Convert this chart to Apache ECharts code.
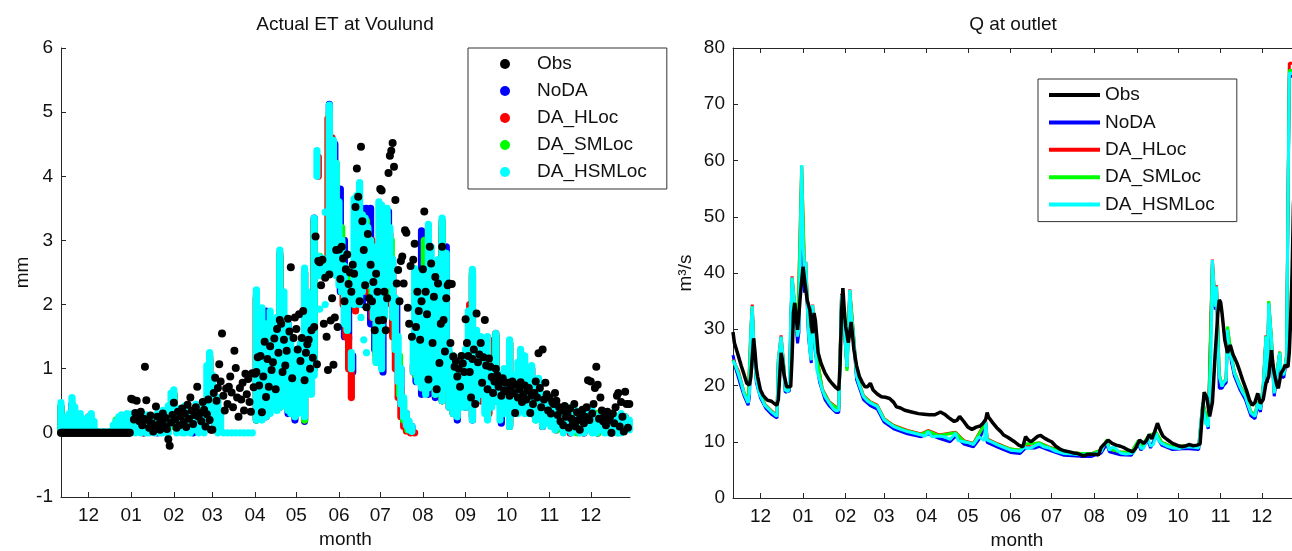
<!DOCTYPE html>
<html>
<head>
  <meta charset="utf-8">
  <script src="https://cdn.jsdelivr.net/npm/echarts@6.0.0/dist/echarts.min.js"></script>
  <style>
    html, body { margin: 0; padding: 0; background: #fff; }
    #chart { width: 1292px; height: 551px; }
  </style>
</head>
<body>
  <div id="chart"></div>

  <script type="text/javascript">
    // x values are days counted from 11 Nov; ticks sit on the first day of each month
    var monthDays = [20, 51, 82, 110, 141, 171, 202, 232, 263, 294, 324, 355, 385];
    var monthLabels = ['12', '01', '02', '03', '04', '05', '06', '07', '08', '09', '10', '11', '12'];
    var seriesNames = ['Obs', 'NoDA', 'DA_HLoc', 'DA_SMLoc', 'DA_HSMLoc'];
    var seriesColors = ['#000000', '#0000ff', '#ff0000', '#00ff00', '#00ffff'];

    // observed daily ET (mm), one value per day from day 0
    var etObsNovDec = [0,0,0,0,0,0,0,0,0,0, 0,0,0,0,0,0,0,0,0,0, 0,0,0,0,0,0,0,0,0,0, 0,0,0,0,0,0,0,0,0,0, 0,0,0,0,0,0,0,0,0,0, 0];
    var etObsJan = [0.53,0.52,0.21,0.31,0.50,0.26,0.18,0.33,0.12,0.22,1.03,0.51,0.20,0.08,0.27,0.15,0.02,0.10,0.41,0.25,0.13,0.05,0.19,0.30,0.11,0.23,0.06,-0.10,-0.20,0.16,0.28];
    var etObsFeb = [0.47,0.21,0.08,0.33,0.12,0.26,0.38,0.17,0.30,0.09,0.44,0.22,0.55,0.35,0.14,0.28,0.40,0.72,0.25,0.31,0.18,0.48,0.36,0.10,0.29,0.52,0.20,0.05];
    var etObsMar = [0.05,0.62,0.86,0.50,0.70,1.07,0.80,1.55,0.58,0.35,0.69,0.45,0.72,0.88,0.63,0.40,1.28,1.01,0.55,0.25,0.70,0.52,0.78,0.35,0.92,0.60,0.84,0.48,0.33,0.93,0.71];
    var etObsApr = [0.92,0.95,1.18,0.74,1.20,0.32,0.88,1.42,0.56,1.15,0.72,1.35,0.98,1.10,1.47,0.68,1.62,1.25,1.76,1.70,0.95,1.45,1.05,1.28,1.78,1.58,2.58,0.85,1.48,1.80];
    var etObsMay = [1.62,1.30,1.85,1.12,1.48,1.90,0.82,1.25,1.38,1.45,1.00,1.60,1.17,1.65,3.06,1.07,2.68,2.66,2.30,2.70,1.70,2.42,1.50,0.98,2.47,1.75,2.10,1.06,1.80,2.85,1.65];
    var etObsJun = [2.86,2.40,2.90,2.72,2.05,2.55,2.78,2.32,2.50,2.20,2.62,2.48,3.52,4.12,3.68,2.05,4.46,3.30,2.85,2.30,1.96,3.10,2.10,2.62,2.05,2.35,1.60,2.48,2.20,1.75];
    var etObsJul = [3.80,3.78,1.76,2.20,1.60,2.10,4.05,4.32,4.40,4.52,4.15,3.63,2.33,2.54,2.05,2.68,2.75,2.33,3.16,3.12,1.95,1.70,2.60,1.50,2.70,2.95,1.65,2.20,1.90,1.45,2.05];
    var etObsAug = [2.55,3.45,2.20,1.85,0.83,2.90,2.64,1.40,2.12,2.43,0.68,2.33,1.09,1.70,2.90,1.76,1.27,2.10,2.30,2.33,1.40,2.32,1.19,1.03,1.12,0.88,1.00,0.72,1.20,1.08,0.95];
    var etObsSep = [1.77,1.40,1.20,0.95,0.55,1.15,1.30,0.45,1.86,1.10,1.22,1.40,0.78,1.18,1.76,1.05,0.68,1.16,1.03,0.87,0.62,0.80,1.00,0.90,0.72,0.80,0.58,0.85,0.66,0.78];
    var etObsOct = [0.65,0.78,0.58,0.72,0.80,0.62,0.31,0.75,0.55,0.68,0.79,0.48,0.60,0.74,0.52,0.66,0.70,0.31,0.58,0.45,0.62,0.80,0.55,1.24,0.70,0.40,1.30,0.52,0.78,0.60,0.35];
    var etObsNov = [0.55,0.30,0.48,0.45,0.62,0.50,0.28,0.40,0.18,0.35,0.12,0.42,0.25,0.30,0.08,0.38,0.22,0.15,0.45,0.10,0.32,0.20,0.05,0.28,0.36,0.15,0.25,0.40,0.82,0.20];
    var etObsDec = [0.80,0.30,0.45,0.70,1.03,0.75,0.22,0.55,0.35,0.18,0.28,0.12,0.33,0.20,0.25,0.00,0.30,0.15,0.40,0.58,0.62,0.10,0.48,0.25,0.02,0.64,0.45,0.08,0.45];

    // simulated ET: [day, lowest, highest] of the sub-daily values
    var etHSMLoc = [[0,0,0.47],[2,0.05,0.15],[4,0,0.25],[6,0,0.3],[8,0.05,0.55],[10,0,0.4],[12,0.05,0.28],[14,0,0.3],[16,0,0.22],[18,0.05,0.2],[20,0,0.25],[22,0,0.3],[24,0,0.18],[27,0,0.02],[31,0,0.02],[35,0,0.02],[38,0,0.12],[40,0,0.18],[42,0,0.25],[44,0.02,0.28],[46,0,0.2],[48,0,0.3],[50,0,0.28],[52,0.05,0.3],
      [54,0,0.25],[56,0.02,0.3],[58,0,0.18],[60,0.05,0.22],[62,0,0.28],[64,0,0.15],[66,0.02,0.25],[68,0,0.2],[70,0.05,0.3],[72,0,0.22],[74,0,0.35],[76,0.05,0.28],[78,0,0.42],[80,0.3,0.62],[82,0.15,0.67],[84,0,0.3],[86,0.05,0.38],[88,0,0.25],[90,0,0.42],[92,0.05,0.35],[94,0,0.3],[96,0.05,0.2],[98,0.05,0.45],[100,0,0.3],[102,0.02,0.4],[104,0,0.25],[106,0.1,1.05],[108,0.2,1.25],[110,0.3,0.9],[112,0.1,0.5],[114,0,0.55],[116,0.05,0.3],
      [118,0,0],[121,0,0],[124,0,0],[127,0,0],[130,0,0],[133,0,0],[136,0,0],[139,0,0],
      [142,0.2,2.23],[144,0.25,1.6],[146,0.2,1.95],[149,0.25,1.7],[152,0.3,1.9],[155,0.4,1.5],[157,0.35,1.8],[159,0.4,2.85],[161,0.5,2.0],[162,0.6,2.2],[164,0.4,1.6],[165,0.35,1.7],[167,0.3,1.4],[170,0.25,1.2],
      [172,0.3,1.1],[174,0.4,1.4],[177,0.25,2.57],[179,0.6,2.2],[180,0.9,2.0],[182,0.6,1.5],[184,0.9,3.35],[186,4.0,4.4],[187,2.45,2.75],[188,1.93,1.93],[190,2.45,2.72],[192,3.44,3.44],[192,2.0,2.0],[193,2.5,2.7],[195,2.6,5.11],
      [198,2.55,4.56],[200,2.45,4.2],[202,2.3,3.6],[204,2.2,3.0],[206,1.7,2.6],[208,1.6,2.3],[211,1.0,1.25],[213,2.0,3.65],[215,2.2,3.7],[217,2.0,3.9],[218,1.8,1.8],[219,2.2,3.4],[220,1.45,1.45],[221,2.9,3.35],[222,1.25,1.25],[223,2.3,3.2],[225,2.5,3.0],[227,1.8,2.6],[229,1.1,2.9],[231,1.5,3.6],[233,1.0,3.55],[235,1.8,3.5],[237,2.6,3.5],
      [239,2.3,3.2],[241,1.8,2.7],[243,1.3,2.1],[245,0.8,1.5],[247,0.45,1.0],[249,0.25,0.55],[251,0.12,0.3],[253,0.05,0.18],[255,0.02,0.1],[256,0.95,1.5],[257,1.0,2.56],[259,0.8,2.2],[262,0.7,2.5],
      [264,0.8,2.0],[265,0.6,2.2],[267,0.7,3.25],[269,0.8,2.9],[272,0.6,2.4],[274,0.8,2.7],[277,0.5,3.35],[280,0.7,2.8],[282,0.4,1.3],[285,0.3,1.2],[288,0.25,1.1],[291,0.4,1.2],
      [294,0.4,1.3],[296,0.45,1.9],[297,0.5,1.9],[299,0.2,2.55],[302,0.5,1.6],[305,0.6,1.5],[308,0.3,1.1],[310,0.2,1.5],[313,0.4,1.0],[316,0.5,1.55],[319,0.2,0.9],[322,0.3,1.0],
      [326,0.1,1.45],[329,0.3,0.9],[332,0.3,1.1],[334,0.4,1.3],[337,0.3,1.2],[340,0.3,1.0],[342,0.3,1.05],[345,0.2,0.7],[347,0.3,0.85],[350,0.1,0.6],[353,0.15,0.55],
      [356,0.1,0.45],[359,0.05,0.5],[362,0.1,0.4],[365,0,0.35],[368,0.05,0.4],[371,0,0.3],[374,0.05,0.35],[377,0,0.3],[380,0,0.25],[383,0.05,0.3],[386,0,0.35],[389,0,0.25],[392,0.05,0.3],[395,0,0.25],[398,0,0.2],[401,0.05,0.3],[404,0,0.25],[407,0,0.3],[410,0.05,0.25],[413,0.05,0.2]];
    var etNoDA = [[0,0,0.4],[8,0,0.45],[16,0,0.2],[44,0,0.25],[60,0,0.2],[70,0,0.28],[82,0.1,0.6],[96,0,0.2],[108,0.2,1.15],[112,0.1,0.45],
      [142,0.2,2.1],[149,0.25,1.9],[159,0.4,2.75],[165,0.3,1.7],[170,0.2,1.2],[177,0.18,2.5],[184,1.0,3.35],[195,2.6,5.12],[199,2.5,4.5],[203,2.2,3.8],[206,1.5,3.0],[209,1.45,2.1],[212,0.95,1.2],
      [215,2.6,3.3],[219,2.0,3.5],[222,2.8,3.5],[225,1.7,3.5],[228,1.3,2.4],[234,0.95,3.5],[238,2.5,3.45],[241,1.7,2.7],[244,1.2,2.0],[247,0.45,1.0],[251,0.1,0.3],[255,0.02,0.1],
      [258,0.8,2.4],[262,0.6,3.15],[267,0.6,3.1],[272,0.55,2.4],[277,0.5,3.2],[280,0.6,2.9],[285,0.3,1.2],[288,0.2,1.1],[294,0.4,1.2],[299,0.2,2.45],[305,0.5,1.45],[310,0.25,1.45],[316,0.5,1.5],[320,0.15,0.9],
      [326,0.1,1.4],[334,0.35,1.25],[342,0.3,1.0],[350,0.1,0.6],[360,0.05,0.45],[370,0,0.35],[380,0,0.25],[390,0,0.3],[400,0,0.25],[410,0.05,0.25]];
    var etHLoc = [[0,0,0.4],[20,0,0.25],[60,0,0.25],[82,0.1,0.6],[108,0.2,1.2],[142,0.2,2.15],[159,0.4,2.8],[177,0.2,2.5],[184,1.0,3.3],[187,4.0,4.3],[189,2.45,2.7],
      [194,2.5,4.9],[197,4.0,4.6],[199,3.5,4.1],[201,3.0,3.6],[203,2.5,3.0],[205,2.0,2.5],[207,1.5,2.0],[209,1.0,1.5],[211,0.55,1.0],
      [214,1.9,2.5],[216,2.0,3.3],[219,2.6,3.4],[222,2.2,3.3],[226,1.8,3.0],[229,1.2,2.5],[232,1.5,3.4],[236,2.0,3.4],[239,2.1,3.1],[241,1.5,2.5],[243,1.0,1.8],[245,0.55,1.2],[247,0.25,0.7],[249,0.1,0.35],[251,0.03,0.15],[254,0,0.05],[257,0,0],
      [256,0.95,1.05],[262,0.7,2.5],[267,0.7,3.2],[272,0.6,2.35],[277,0.5,3.3],[282,0.4,1.25],[288,0.3,1.1],[297,0.5,2.0],[299,0.25,2.5],[305,0.5,1.45],[311,0.3,1.45],[316,0.5,1.55],
      [326,0.15,1.4],[334,0.4,1.25],[342,0.3,1.0],[350,0.1,0.55],[360,0.05,0.45],[370,0,0.35],[380,0,0.25],[390,0,0.3],[400,0,0.25],[410,0.05,0.25]];
    var etSMLoc = [[0,0,0.4],[40,0,0.2],[82,0.1,0.6],[108,0.2,1.2],[142,0.2,2.1],[159,0.4,2.75],[177,0.2,2.5],[184,1.0,3.3],[188,2.5,2.75],[195,2.6,5.0],[200,2.5,4.2],[204,2.2,3.2],[208,1.6,2.4],
      [214,2.2,3.5],[218,2.3,3.4],[222,2.4,3.3],[226,2.0,2.8],[229,1.1,1.55],[233,1.5,3.45],[237,2.6,3.4],[240,2.2,3.0],[243,1.3,2.0],[246,0.6,1.2],[249,0.2,0.5],[252,0.05,0.2],
      [258,0.9,2.5],[264,0.7,3.0],[268,1.0,1.15],[272,0.6,2.4],[277,0.5,3.3],[285,0.3,1.2],[297,0.5,1.9],[299,0.25,2.5],[310,0.25,1.4],[316,0.5,1.5],[326,0.1,1.4],[334,0.4,1.25],[345,0.2,0.7],[360,0.05,0.45],[375,0,0.3],[390,0,0.3],[405,0,0.25]];

    // discharge Q (m3/s): [day, value]
    var qObs = [[0,29.5],[1,27.6],[3,26.0],[6,23.5],[8,22.0],[10,20.4],[12,20.1],[13,21.5],[15,28.4],[16,26.0],[17,23.0],[18,21.5],[20,19.2],[22,18.2],[25,17.4],[28,17.2],[30,16.8],[32,16.5],[33,17.5],[35,25.8],[36,24.5],[37,22.2],[39,19.8],[40,19.5],[42,19.8],[43,25.0],[44,33.0],[45,34.7],[46,32.0],[47,29.9],[48,32.6],[49,36.0],[51,41.1],[52,39.0],[54,35.2],[56,33.4],[57,30.5],[58,29.3],[59,32.9],[60,31.5],[62,25.8],[64,24.0],[67,22.2],[70,21.0],[72,20.4],[75,19.6],[77,19.2],[78,24.0],[79,33.0],[80,37.3],[81,33.5],[82,30.5],[84,27.6],[86,31.3],[87,29.0],[88,26.4],[90,23.5],[92,21.6],[94,20.6],[96,19.8],[98,19.8],[100,20.4],[102,19.2],[105,18.5],[108,18.0],[111,17.9],[114,17.7],[117,17.0],[119,16.2],[122,16.0],[125,15.6],[130,15.3],[135,15.0],[139,14.9],[143,14.8],[147,14.8],[151,15.3],[154,14.9],[157,14.3],[161,13.6],[163,13.8],[165,14.5],[168,13.6],[171,12.6],[174,12.2],[177,12.6],[180,12.8],[182,13.3],[184,14.0],[185,15.2],[186,14.4],[189,13.4],[192,12.5],[195,11.8],[197,11.2],[200,10.8],[203,10.3],[205,10.0],[208,9.4],[211,9.1],[213,10.9],[215,10.3],[217,10.0],[220,10.6],[222,11.0],[224,11.1],[227,10.6],[230,10.2],[232,10.0],[235,9.2],[238,8.7],[241,8.4],[245,8.2],[248,8.0],[251,7.9],[254,7.6],[256,7.5],[258,7.8],[261,7.8],[264,7.8],[266,7.6],[268,9.0],[270,9.5],[273,10.3],[276,9.7],[279,9.4],[282,9.2],[285,8.9],[288,8.5],[291,8.2],[293,8.8],[296,10.3],[299,9.7],[301,10.2],[303,11.3],[305,10.5],[307,11.8],[309,13.3],[311,12.0],[313,11.0],[316,10.4],[320,9.7],[324,9.3],[327,9.1],[330,9.3],[332,9.5],[335,9.3],[338,9.4],[340,9.6],[342,16.0],[343,18.8],[345,17.8],[347,14.5],[349,17.0],[351,25.5],[353,33.0],[354,35.2],[355,34.8],[356,32.9],[358,28.1],[360,25.8],[362,27.2],[364,25.5],[365,25.8],[367,23.9],[369,22.5],[371,21.0],[374,19.0],[376,17.4],[378,16.5],[380,17.0],[382,18.6],[384,16.8],[386,17.5],[388,20.4],[390,21.6],[391,24.0],[392,26.3],[393,24.0],[394,22.2],[396,20.0],[397,19.5],[399,22.2],[401,23.0],[402,23.6],[404,23.3],[405,26.0],[406,32.0],[407,40.0],[408,52.0],[410,62.0],[413,70.0]];
    var qHSMLoc = [[0,24.4],[2,23.5],[4,22.0],[6,20.5],[8,18.6],[10,17.5],[11,16.9],[12,18.6],[13,30.0],[14,34.1],[15,28.1],[16,24.0],[17,21.0],[19,18.6],[21,17.6],[23,16.5],[26,15.8],[28,15.3],[30,14.9],[32,14.5],[33,24.5],[35,28.7],[36,26.0],[37,23.3],[38,19.2],[40,18.9],[41,19.5],[42,32.0],[43,39.2],[45,34.0],[47,28.7],[48,30.0],[49,45.0],[50,59.2],[51,45.0],[52,41.1],[53,42.0],[54,35.0],[55,29.3],[56,26.0],[57,24.5],[58,34.3],[59,30.0],[60,26.3],[61,22.8],[63,21.0],[65,19.2],[67,18.0],[70,16.9],[73,15.9],[75,15.5],[77,15.6],[78,25.0],[79,36.1],[80,33.0],[81,30.5],[83,23.3],[84,28.0],[85,37.0],[86,33.0],[88,28.1],[90,21.6],[92,20.0],[95,18.0],[98,17.2],[100,16.9],[103,16.5],[105,16.3],[108,14.8],[110,13.9],[114,13.2],[117,12.7],[122,12.2],[127,11.8],[132,11.5],[137,11.2],[140,11.0],[142,11.8],[145,10.9],[150,11.0],[154,10.9],[158,10.4],[162,11.5],[164,10.2],[168,10.0],[172,9.8],[175,9.5],[179,10.9],[183,10.2],[184,13.5],[185,10.3],[189,9.9],[193,9.4],[197,9.0],[202,8.5],[206,8.4],[209,8.3],[212,9.0],[213,9.3],[215,8.8],[217,8.9],[220,9.3],[223,9.6],[226,9.1],[230,8.9],[235,8.3],[241,7.9],[247,7.8],[253,7.7],[258,7.8],[261,7.7],[265,8.0],[268,8.3],[270,9.5],[272,10.0],[274,8.5],[276,9.0],[278,8.9],[282,8.0],[286,7.8],[290,7.9],[292,8.2],[295,10.0],[297,8.8],[299,8.9],[302,10.7],[304,9.2],[306,9.5],[308,11.5],[310,10.2],[312,9.7],[316,9.2],[320,8.9],[325,8.8],[330,9.1],[335,9.0],[339,8.9],[341,14.5],[342,16.9],[344,13.3],[346,12.7],[348,25.0],[349,42.3],[350,38.0],[351,34.0],[352,37.6],[353,28.0],[354,21.6],[356,19.8],[357,20.5],[359,21.0],[360,29.9],[361,25.8],[363,24.7],[365,22.2],[367,21.0],[369,19.8],[371,18.8],[373,18.0],[375,16.5],[377,15.1],[380,14.5],[382,16.9],[384,15.7],[386,19.8],[388,28.7],[389,21.0],[390,34.6],[392,28.1],[393,22.0],[394,18.6],[396,22.0],[398,25.8],[399,22.2],[401,21.9],[403,25.2],[404,51.8],[405,75.5],[407,75.5],[410,75.0],[413,73.0]];
    var qNoDA = [[0,25.4],[2,23.0],[5,20.5],[8,18.2],[11,16.5],[12,18.0],[13,28.0],[14,33.5],[15,27.5],[17,20.5],[20,17.8],[24,15.9],[28,14.9],[32,14.2],[33,24.0],[35,28.0],[37,22.8],[38,18.8],[41,19.0],[42,31.0],[43,38.5],[45,33.5],[47,27.5],[48,29.5],[50,57.0],[52,36.5],[53,40.5],[55,28.5],[57,24.0],[58,33.5],[60,25.8],[63,20.6],[67,17.5],[70,16.4],[75,15.2],[77,15.2],[79,35.5],[81,30.0],[83,23.0],[85,36.3],[88,27.5],[90,21.0],[95,17.5],[100,16.4],[105,15.8],[110,13.5],[117,12.3],[127,11.4],[137,10.9],[142,11.4],[150,10.6],[158,10.0],[162,11.0],[168,9.6],[175,9.1],[179,10.4],[184,13.0],[185,9.9],[193,9.0],[202,8.1],[209,7.9],[213,8.9],[220,8.9],[223,9.2],[230,8.5],[241,7.6],[253,7.4],[261,7.4],[268,8.0],[272,9.6],[274,8.2],[282,7.7],[290,7.6],[295,9.6],[297,8.5],[302,10.3],[304,8.9],[308,11.1],[312,9.4],[320,8.6],[330,8.8],[339,8.6],[342,16.4],[346,12.3],[349,41.5],[351,33.5],[352,37.0],[354,19.5],[356,19.5],[357,20.0],[359,20.5],[360,29.4],[363,24.0],[365,21.7],[369,19.3],[373,17.5],[377,14.6],[380,14.1],[382,16.4],[384,15.3],[386,19.3],[388,28.2],[389,20.5],[390,34.0],[392,27.5],[394,18.1],[398,25.3],[399,21.7],[401,21.4],[403,24.7],[404,51.0],[405,75.0],[407,75.0]];
    var qHLoc = [[0,24.6],[4,22.5],[8,18.8],[11,17.1],[13,30.0],[14,34.4],[15,28.3],[17,21.2],[23,16.7],[28,15.5],[32,14.7],[33,24.7],[35,28.9],[37,23.5],[38,19.4],[41,19.7],[43,39.4],[45,34.2],[47,28.9],[50,59.0],[52,41.0],[53,42.0],[55,29.5],[57,24.7],[58,34.4],[60,26.5],[65,19.4],[70,17.1],[77,15.8],[79,36.3],[81,30.7],[83,23.5],[85,37.1],[88,28.3],[90,21.8],[95,18.2],[100,17.1],[105,16.5],[110,14.1],[117,12.9],[127,12.0],[137,11.4],[142,12.0],[150,11.2],[162,11.7],[168,10.2],[175,9.7],[184,13.6],[185,10.5],[193,9.6],[202,8.7],[209,8.5],[213,9.4],[223,9.8],[230,9.1],[241,8.1],[253,7.9],[261,7.9],[268,8.5],[272,10.1],[274,8.7],[282,8.2],[290,8.1],[295,10.1],[297,9.0],[302,10.8],[308,11.6],[312,9.9],[320,9.1],[330,9.3],[339,9.1],[342,17.0],[346,12.9],[349,42.4],[351,34.2],[352,37.8],[354,21.8],[356,20.0],[359,21.2],[360,30.0],[363,24.9],[365,22.4],[369,20.0],[373,18.2],[377,15.3],[380,14.7],[382,17.1],[384,15.9],[386,20.0],[388,28.9],[389,21.2],[390,34.8],[392,28.3],[394,18.8],[398,26.0],[399,22.4],[401,22.1],[403,25.4],[404,52.5],[405,77.3],[407,77.3]];
    var qSMLoc = [[0,24.5],[4,22.2],[8,18.7],[11,17.0],[13,30.0],[14,34.0],[15,28.2],[17,21.1],[23,16.6],[28,15.4],[32,14.6],[33,24.6],[35,28.6],[37,23.4],[38,19.3],[41,19.6],[43,39.0],[45,34.1],[47,28.8],[50,59.0],[52,41.0],[53,41.9],[55,29.4],[57,24.6],[58,34.2],[60,26.4],[65,19.3],[70,17.0],[77,15.7],[79,36.0],[81,30.6],[83,22.6],[85,36.9],[88,28.2],[90,21.7],[95,18.1],[100,17.0],[105,16.4],[110,14.0],[117,12.8],[127,11.9],[137,11.3],[142,11.9],[150,11.1],[162,11.6],[168,10.1],[175,9.6],[184,13.5],[185,10.4],[193,9.5],[202,8.7],[209,8.5],[213,9.6],[223,9.8],[230,9.0],[241,8.1],[253,7.9],[261,7.9],[268,8.5],[272,10.3],[274,8.7],[282,8.2],[290,8.1],[295,10.2],[297,9.0],[302,10.9],[308,11.7],[312,9.9],[320,9.1],[330,9.3],[339,9.1],[342,17.0],[346,12.9],[349,42.0],[351,34.1],[352,37.6],[354,22.0],[356,20.1],[359,21.3],[360,30.5],[363,25.0],[365,22.4],[369,20.0],[373,18.2],[377,15.4],[380,14.8],[382,17.1],[384,16.0],[386,20.0],[388,28.8],[389,21.3],[390,35.0],[392,28.4],[394,18.9],[398,26.0],[399,22.4],[401,22.1],[403,25.4],[404,52.0],[405,76.0],[407,76.0]];

    var fontFam = '"Liberation Sans", Arial, sans-serif';
    var fontSize = 19;
    var axisCol = '#262626';
    var textCol = '#111';

    var etObsAll = etObsNovDec.concat(etObsJan, etObsFeb, etObsMar, etObsApr, etObsMay, etObsJun,
      etObsJul, etObsAug, etObsSep, etObsOct, etObsNov, etObsDec);
    var etObsPoints = [];
    for (var i = 0; i < etObsAll.length; i++) {
      etObsPoints.push([i, etObsAll[i]]);
    }

    function monthName(v) {
      var k = monthDays.indexOf(v);
      return k < 0 ? '' : monthLabels[k];
    }

    // a vertical stack of dots, drawn as one rounded bar from low to high
    function dotStack(color) {
      return function (params, api) {
        var top = api.coord([api.value(0), api.value(2)]);
        var bot = api.coord([api.value(0), api.value(1)]);
        var r = 3.6;
        return {
          type: 'rect',
          shape: { x: top[0] - r, y: top[1] - r, width: 2 * r, height: bot[1] - top[1] + 2 * r, r: r },
          style: { fill: color }
        };
      };
    }

    function monthXAxis(grid, pos, showLabels) {
      return {
        type: 'value', gridIndex: grid, position: pos, min: 0, max: 413.5,
        axisLine: { show: true, onZero: false, lineStyle: { color: axisCol, width: 1 } },
        axisTick: { show: true, inside: true, length: 5, customValues: monthDays, lineStyle: { color: axisCol } },
        axisLabel: { show: showLabels, customValues: monthDays, formatter: monthName,
          fontSize: fontSize, color: textCol, fontFamily: fontFam, margin: 9 },
        splitLine: { show: false },
        name: showLabels ? 'month' : '', nameLocation: 'middle', nameGap: 32,
        nameTextStyle: { fontSize: fontSize, color: textCol, fontFamily: fontFam }
      };
    }

    function valueYAxis(grid, lo, hi, step, label, gap) {
      return {
        type: 'value', gridIndex: grid, min: lo, max: hi, interval: step,
        axisLine: { show: true, onZero: false, lineStyle: { color: axisCol, width: 1 } },
        axisTick: { show: true, inside: true, length: 5, lineStyle: { color: axisCol } },
        axisLabel: { fontSize: fontSize, color: textCol, fontFamily: fontFam, margin: 8 },
        splitLine: { show: false },
        name: label, nameLocation: 'middle', nameGap: gap, nameRotate: 90,
        nameTextStyle: { fontSize: fontSize, color: textCol, fontFamily: fontFam }
      };
    }

    function legendItems(icon) {
      var out = [];
      for (var k = 0; k < seriesNames.length; k++) {
        out.push({ name: seriesNames[k], icon: icon, itemStyle: { color: seriesColors[k], opacity: 1 } });
      }
      return out;
    }

    var legendText = { fontSize: fontSize, color: textCol, fontFamily: fontFam, lineHeight: 20 };

    var chart = echarts.init(document.getElementById('chart'));
    var option = {
      animation: false,
      backgroundColor: '#fff',
      grid: [
        { left: 61, right: 662, top: 48, bottom: 54, outerBoundsMode: 'none' },
        { left: 733, right: -9, top: 48, bottom: 53, outerBoundsMode: 'none' }
      ],
      graphic: [
        { type: 'text', x: 345, y: 25, style: { text: 'Actual ET at Voulund', fontSize: fontSize, fontFamily: fontFam, fill: textCol, align: 'center', verticalAlign: 'middle' } },
        { type: 'text', x: 1013, y: 25, style: { text: 'Q at outlet', fontSize: fontSize, fontFamily: fontFam, fill: textCol, align: 'center', verticalAlign: 'middle' } }
      ],
      legend: [
        {
          left: 468, top: 48, orient: 'vertical', selectedMode: false,
          itemWidth: 54, itemHeight: 10, itemGap: 7,
          padding: [6, 20, 7, 32],
          borderColor: '#333', borderWidth: 1, backgroundColor: '#fff',
          textStyle: legendText,
          data: legendItems('circle')
        },
        {
          left: 1038, top: 79, orient: 'vertical', selectedMode: false,
          itemWidth: 51, itemHeight: 4, itemGap: 7.4,
          padding: [6, 22, 7, 11],
          borderColor: '#333', borderWidth: 1, backgroundColor: '#fff',
          textStyle: legendText,
          data: legendItems('rect')
        }
      ],
      xAxis: [
        monthXAxis(0, 'bottom', true),
        monthXAxis(1, 'bottom', true),
        monthXAxis(1, 'top', false)
      ],
      yAxis: [
        valueYAxis(0, -1, 6, 1, 'mm', 29),
        valueYAxis(1, 0, 80, 10, 'm\u00b3/s', 38)
      ],
      series: [
        { name: 'NoDA', type: 'custom', xAxisIndex: 0, yAxisIndex: 0, renderItem: dotStack(seriesColors[1]),
          itemStyle: { color: seriesColors[1] }, encode: { x: 0, y: [1, 2] }, data: etNoDA, z: 2 },
        { name: 'DA_HLoc', type: 'custom', xAxisIndex: 0, yAxisIndex: 0, renderItem: dotStack(seriesColors[2]),
          itemStyle: { color: seriesColors[2] }, encode: { x: 0, y: [1, 2] }, data: etHLoc, z: 3 },
        { name: 'DA_SMLoc', type: 'custom', xAxisIndex: 0, yAxisIndex: 0, renderItem: dotStack(seriesColors[3]),
          itemStyle: { color: seriesColors[3] }, encode: { x: 0, y: [1, 2] }, data: etSMLoc, z: 4 },
        { name: 'DA_HSMLoc', type: 'custom', xAxisIndex: 0, yAxisIndex: 0, renderItem: dotStack(seriesColors[4]),
          itemStyle: { color: seriesColors[4] }, encode: { x: 0, y: [1, 2] }, data: etHSMLoc, z: 5 },
        { name: 'Obs', type: 'scatter', xAxisIndex: 0, yAxisIndex: 0, symbol: 'circle', symbolSize: 8,
          itemStyle: { color: seriesColors[0], opacity: 1 }, data: etObsPoints, z: 6 },

        { name: 'NoDA', type: 'line', xAxisIndex: 1, yAxisIndex: 1, showSymbol: false,
          lineStyle: { color: seriesColors[1], width: 3 }, itemStyle: { color: seriesColors[1] }, data: qNoDA, z: 2 },
        { name: 'DA_HLoc', type: 'line', xAxisIndex: 1, yAxisIndex: 1, showSymbol: false,
          lineStyle: { color: seriesColors[2], width: 3 }, itemStyle: { color: seriesColors[2] }, data: qHLoc, z: 3 },
        { name: 'DA_SMLoc', type: 'line', xAxisIndex: 1, yAxisIndex: 1, showSymbol: false,
          lineStyle: { color: seriesColors[3], width: 3 }, itemStyle: { color: seriesColors[3] }, data: qSMLoc, z: 4 },
        { name: 'DA_HSMLoc', type: 'line', xAxisIndex: 1, yAxisIndex: 1, showSymbol: false,
          lineStyle: { color: seriesColors[4], width: 3 }, itemStyle: { color: seriesColors[4] }, data: qHSMLoc, z: 5 },
        { name: 'Obs', type: 'line', xAxisIndex: 1, yAxisIndex: 1, showSymbol: false,
          lineStyle: { color: seriesColors[0], width: 3.5 }, itemStyle: { color: seriesColors[0] }, data: qObs, z: 6 }
      ]
    };
    chart.setOption(option);
  </script>
</body>
</html>
